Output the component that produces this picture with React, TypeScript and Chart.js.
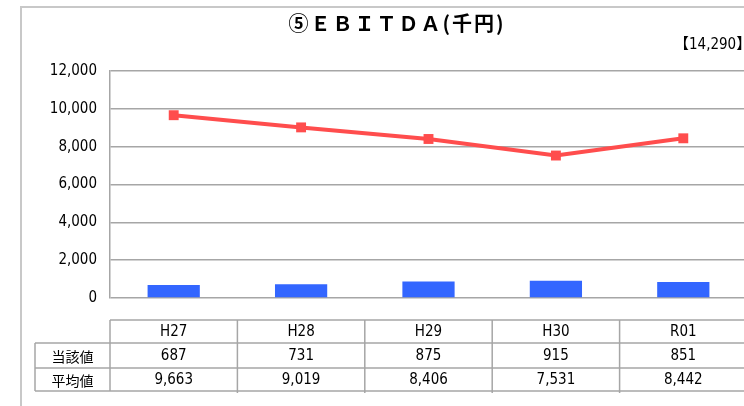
import React, { useEffect, useRef } from "react";
import { Chart, registerables } from "chart.js";

Chart.register(...registerables);

const categories = ["H27", "H28", "H29", "H30", "R01"];
const currentValues = [687, 731, 875, 915, 851];
const averageValues = [9663, 9019, 8406, 7531, 8442];
const rowLabels = ["当該値", "平均値"];
const titleText = "⑤ＥＢＩＴＤＡ(千円)";
const noteText = "【14,290】";
const yTicks = [0, 2000, 4000, 6000, 8000, 10000, 12000];

const W = 790;
const H = 406;
const NUM_FONT = '"DejaVu Sans Condensed", "Noto Sans CJK JP", sans-serif';
const JP_FONT = '"Noto Sans CJK JP", sans-serif';
const GRID = "#a6a6a6";

const fmt = (v: number) => v.toLocaleString("en-US");

const decorPlugin = {
  id: "decor",
  afterDraw(chart: any) {
    const ctx = chart.ctx;
    const x = chart.scales.x;
    const area = chart.chartArea;
    ctx.save();
    // outer frame
    ctx.strokeStyle = "#c8c8c8";
    ctx.lineWidth = 2;
    ctx.beginPath();
    ctx.moveTo(21, H);
    ctx.lineTo(21, 7);
    ctx.lineTo(W, 7);
    ctx.stroke();

    // title
    ctx.fillStyle = "#000";
    ctx.font = `bold 20px ${JP_FONT}`;
    (ctx as any).letterSpacing = "2px";
    ctx.textAlign = "center";
    ctx.textBaseline = "middle";
    ctx.fillText(titleText, 397, 23);
    (ctx as any).letterSpacing = "0px";

    // note
    ctx.font = `15px ${NUM_FONT}`;
    ctx.textAlign = "left";
    ctx.fillText(noteText, 674, 45);

    // table
    const n = categories.length;
    const cw = (area.right - area.left) / n;
    const top = 320;
    const rows = [320, 343, 368, 391];
    const labelLeft = 35;
    ctx.strokeStyle = GRID;
    ctx.lineWidth = 1.5;
    ctx.beginPath();
    ctx.moveTo(area.left, rows[0]);
    ctx.lineTo(W, rows[0]);
    for (let r = 1; r < rows.length; r++) {
      ctx.moveTo(labelLeft, rows[r]);
      ctx.lineTo(W, rows[r]);
    }
    ctx.moveTo(labelLeft, rows[1]);
    ctx.lineTo(labelLeft, rows[3]);
    for (let i = 0; i <= n; i++) {
      const px = area.left + i * cw;
      ctx.moveTo(px, top);
      ctx.lineTo(px, rows[3] + (i === 0 ? 0 : 2));
    }
    ctx.stroke();

    ctx.fillStyle = "#000";
    ctx.textAlign = "center";
    ctx.textBaseline = "middle";
    ctx.font = `15px ${NUM_FONT}`;
    categories.forEach((c, i) => {
      const cx = x.getPixelForValue(i);
      ctx.fillText(c, cx, (rows[0] + rows[1]) / 2 + 1);
      ctx.fillText(fmt(currentValues[i]), cx, (rows[1] + rows[2]) / 2 + 1);
      ctx.fillText(fmt(averageValues[i]), cx, (rows[2] + rows[3]) / 2 + 1);
    });
    ctx.font = `14px ${JP_FONT}`;
    rowLabels.forEach((l, r) => {
      ctx.fillText(l, (labelLeft + area.left) / 2, (rows[r + 1] + rows[r + 2]) / 2 + 1);
    });
    ctx.restore();
  },
};

export default function App() {
  const ref = useRef<HTMLCanvasElement>(null);
  useEffect(() => {
    if (!ref.current) return;
    const chart = new Chart(ref.current, {
      type: "bar",
      data: {
        labels: categories,
        datasets: [
          {
            type: "line",
            label: rowLabels[1],
            data: averageValues,
            borderColor: "#FF4D4D",
            backgroundColor: "#FF4D4D",
            borderWidth: 4,
            pointStyle: "rect",
            pointRadius: 7,
            pointBorderWidth: 0,
            pointBackgroundColor: "#FF4D4D",
            order: 0,
          } as any,
          {
            type: "bar",
            label: rowLabels[0],
            data: currentValues,
            backgroundColor: "#3366FF",
            barPercentage: 0.41,
            categoryPercentage: 1,
            order: 1,
          },
        ],
      },
      options: {
        responsive: false,
        animation: false,
        layout: { padding: { left: 0, right: W - 747, top: 71, bottom: H - 298 } },
        plugins: { legend: { display: false }, tooltip: { enabled: false }, title: { display: false } },
        scales: {
          x: { display: false },
          y: {
            min: 0,
            max: 12000,
            afterBuildTicks: (s: any) => {
              s.ticks = yTicks.map((v) => ({ value: v }));
            },
            afterFit: (s: any) => {
              s.width = 110;
            },
            grid: { color: GRID, lineWidth: 1.5, drawTicks: false },
            border: { color: GRID, width: 1.5 },
            ticks: {
              padding: 13,
              color: "#000",
              font: { family: NUM_FONT, size: 15 },
              callback: (v: any) => fmt(Number(v)),
            },
          },
        },
      },
      plugins: [decorPlugin],
    });
    return () => chart.destroy();
  }, []);
  return (
    <div style={{ position: "fixed", left: 0, top: 0, width: 744, height: H, overflow: "hidden", background: "#fff" }}>
      <canvas ref={ref} width={W} height={H} style={{ width: W, height: H, display: "block" }} />
    </div>
  );
}
